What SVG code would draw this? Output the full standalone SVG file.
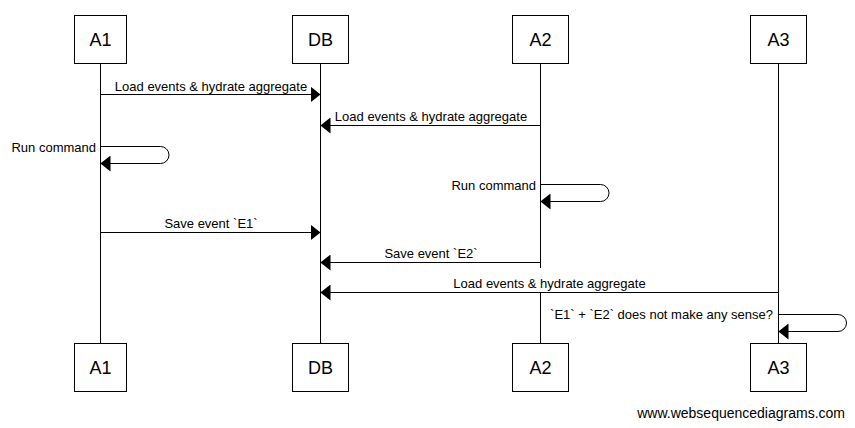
<svg xmlns="http://www.w3.org/2000/svg" width="855" height="428" viewBox="0 0 855 428">
<defs>
<style>
.box{fill:#fff;stroke:#000;stroke-width:1}
.life{stroke:#000;stroke-width:1;fill:none}
.msg{stroke:#000;stroke-width:1;fill:none}
.ptext{font-family:"Liberation Sans",Arial,sans-serif;font-size:18px;fill:#000;text-anchor:middle}
.mtext{font-family:"Liberation Sans",Arial,sans-serif;font-size:13px;fill:#000;text-anchor:middle}
.stext{font-family:"Liberation Sans",Arial,sans-serif;font-size:13px;fill:#000;text-anchor:end}
.wm{font-family:"Liberation Sans",Arial,sans-serif;font-size:14px;fill:#000;text-anchor:end}
</style>
<marker id="ah" viewBox="0 0 10 16" refX="10" refY="8" markerWidth="10" markerHeight="16" markerUnits="userSpaceOnUse" orient="auto">
<path d="M0,0 L10,8 L0,16 Z" fill="#000"/>
</marker>
</defs>
<rect width="855" height="428" fill="#fff"/>
<g id="lifelines">
<line class="life" x1="100.5" y1="64" x2="100.5" y2="343"/>
<line class="life" x1="320.5" y1="64" x2="320.5" y2="343"/>
<line class="life" x1="540.5" y1="64" x2="540.5" y2="343"/>
<line class="life" x1="778.5" y1="64" x2="778.5" y2="343"/>
</g>
<g id="A1">
<rect class="box" x="74.5" y="15.5" width="52" height="48"/>
<text class="ptext" x="100.5" y="46">A1</text>
<rect class="box" x="74.5" y="343.5" width="52" height="48"/>
<text class="ptext" x="100.5" y="374">A1</text>
</g>
<g id="DB">
<rect class="box" x="292.5" y="15.5" width="56" height="48"/>
<text class="ptext" x="320.5" y="46">DB</text>
<rect class="box" x="292.5" y="343.5" width="56" height="48"/>
<text class="ptext" x="320.5" y="374">DB</text>
</g>
<g id="A2">
<rect class="box" x="512.5" y="15.5" width="56" height="48"/>
<text class="ptext" x="540.5" y="46">A2</text>
<rect class="box" x="512.5" y="343.5" width="56" height="48"/>
<text class="ptext" x="540.5" y="374">A2</text>
</g>
<g id="A3">
<rect class="box" x="750.5" y="15.5" width="56" height="48"/>
<text class="ptext" x="778.5" y="46">A3</text>
<rect class="box" x="750.5" y="343.5" width="56" height="48"/>
<text class="ptext" x="778.5" y="374">A3</text>
</g>
<g id="connectors">
<line class="msg" x1="100.5" y1="94.5" x2="320.5" y2="94.5" marker-end="url(#ah)"/>
<text class="mtext" x="211" y="91">Load events &amp; hydrate aggregate</text>
<line class="msg" x1="540.5" y1="125.5" x2="320.5" y2="125.5" marker-end="url(#ah)"/>
<text class="mtext" x="431" y="121">Load events &amp; hydrate aggregate</text>
<path class="msg" d="M100.5,146.5 H160.5 A8.5,8.5 0 0 1 160.5,163.5 H100.5" marker-end="url(#ah)"/>
<text class="stext" x="96" y="152">Run command</text>
<path class="msg" d="M540.5,184.5 H600.5 A8.5,8.5 0 0 1 600.5,201.5 H540.5" marker-end="url(#ah)"/>
<text class="stext" x="536" y="190">Run command</text>
<line class="msg" x1="100.5" y1="232.5" x2="320.5" y2="232.5" marker-end="url(#ah)"/>
<text class="mtext" x="211" y="228">Save event `E1`</text>
<line class="msg" x1="540.5" y1="262.5" x2="320.5" y2="262.5" marker-end="url(#ah)"/>
<text class="mtext" x="431" y="258">Save event `E2`</text>
<rect x="452" y="268" width="196" height="24" fill="#fff"/>
<line class="msg" x1="778.5" y1="292.5" x2="320.5" y2="292.5" marker-end="url(#ah)"/>
<text class="mtext" x="549.5" y="288">Load events &amp; hydrate aggregate</text>
<path class="msg" d="M778.5,314.5 H838 A8.5,8.5 0 0 1 838,331.5 H778.5" marker-end="url(#ah)"/>
<text class="stext" x="773" y="319">`E1` + `E2` does not make any sense?</text>
</g>
<text class="wm" x="845" y="418">www.websequencediagrams.com</text>
</svg>
